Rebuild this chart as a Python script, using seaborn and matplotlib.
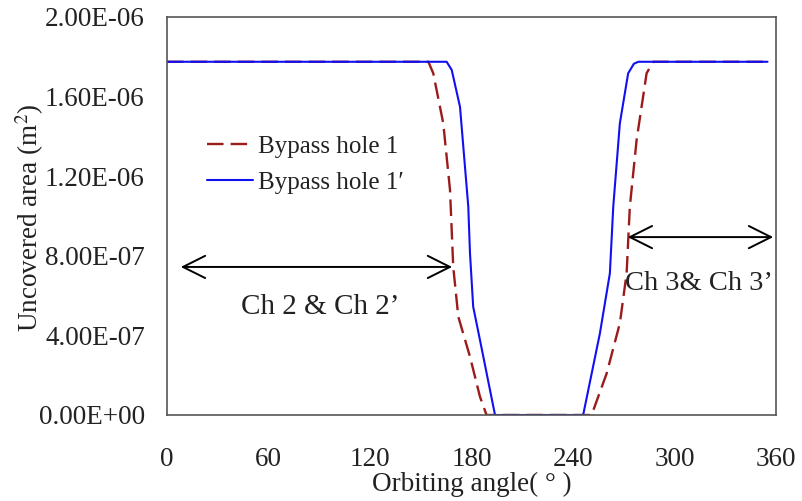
import matplotlib
matplotlib.use("Agg")
import matplotlib.pyplot as plt
import seaborn as sns
import pandas as pd

# Data
angle_hole1 = [0, 154.5, 157.4, 163.3, 167.3, 169.2, 172.2, 179.1, 185.0, 188.9,
               251.0, 259.9, 267.7, 271.7, 273.6, 277.6, 283.5, 287.4, 355]
area_hole1 = [1.775e-6, 1.775e-6, 1.717e-6, 1.466e-6, 1.131e-6, 0.745e-6, 0.494e-6,
              0.293e-6, 0.092e-6, 0.0, 0.0, 0.209e-6, 0.461e-6, 0.712e-6, 1.047e-6,
              1.382e-6, 1.717e-6, 1.775e-6, 1.775e-6]
angle_hole1p = [0, 165.3, 168.3, 173.2, 178.1, 179.1, 181.0, 185.0, 193.9,
                246.0, 255.9, 261.8, 263.8, 267.7, 272.6, 276.0, 278.6, 355]
area_hole1p = [1.775e-6, 1.775e-6, 1.734e-6, 1.549e-6, 1.047e-6, 0.814e-6, 0.544e-6,
               0.377e-6, 0.0, 0.0, 0.41e-6, 0.712e-6, 1.047e-6, 1.466e-6, 1.717e-6,
               1.765e-6, 1.775e-6, 1.775e-6]
series_names = ["Bypass hole 1", "Bypass hole 1\u2032"]
x_ticks = [0, 60, 120, 180, 240, 300, 360]
y_ticks = [0, 4e-7, 8e-7, 1.2e-6, 1.6e-6, 2e-6]
y_tick_labels = ["0.00E+00", "4.00E-07", "8.00E-07", "1.20E-06", "1.60E-06", "2.00E-06"]
arrow_ch2 = (6.5, 170.2, 7.44e-7)
arrow_ch3 = (270.7, 360, 8.94e-7)
label_ch2 = (90.4, 5.43e-7, "Ch 2 & Ch 2\u2019")
label_ch3 = (314.4, 6.63e-7, "Ch 3& Ch 3\u2019")

sns.set_theme(style="white")
plt.rcParams['font.family'] = ['Liberation Serif', 'DejaVu Serif']
plt.rcParams['mathtext.fontset'] = 'stix'

TXT = '#222222'
fig = plt.figure(figsize=(8.02, 5.01), dpi=100)
ax = fig.add_axes([167/802, 1 - 415/501, (776-167)/802, (415-17)/501])

df1 = pd.DataFrame({"angle": angle_hole1, "area": area_hole1})
df2 = pd.DataFrame({"angle": angle_hole1p, "area": area_hole1p})
sns.lineplot(data=df1, x="angle", y="area", ax=ax, color="#9B1B1B", lw=1.7,
             sort=False, label=series_names[0], linestyle=(0, (7, 3)))
sns.lineplot(data=df2, x="angle", y="area", ax=ax, color="#1010F0", lw=1.5,
             sort=False, label=series_names[1])

ax.set_xlim(0, 360)
ax.set_ylim(0, 2e-6)
ax.set_xticks(x_ticks)
ax.set_xticklabels([str(t) for t in x_ticks])
ax.set_yticks(y_ticks)
ax.set_yticklabels(y_tick_labels)
ax.tick_params(axis='both', direction='in', length=6, width=1, color='#555555',
               labelsize=19.5, labelcolor=TXT)
ax.tick_params(axis='x', pad=23)
ax.tick_params(axis='y', pad=16)
for s in ax.spines.values():
    s.set_color('#555555')
    s.set_linewidth(1.2)

ax.set_xlabel("Orbiting angle( \u00b0 )", fontsize=19.5, color=TXT)
ax.set_ylabel("Uncovered area (m$^2$)", fontsize=19.5, color=TXT)
ax.xaxis.set_label_coords(0.5, -0.143)
ax.yaxis.set_label_coords(-0.199, 0.495)

leg = ax.legend(loc='upper left', bbox_to_anchor=(0.066, 0.702), frameon=False,
                fontsize=18, handlelength=1.85, handletextpad=0.2, labelspacing=0.52,
                borderaxespad=0, borderpad=0)
for t in leg.get_texts():
    t.set_color(TXT)

arrowprops = dict(arrowstyle='<->', color='black', lw=1.4, mutation_scale=40)
ax.annotate("", xy=(arrow_ch2[0], arrow_ch2[2]), xytext=(arrow_ch2[1], arrow_ch2[2]),
            arrowprops=arrowprops)
ax.annotate("", xy=(arrow_ch3[0], arrow_ch3[2]), xytext=(arrow_ch3[1], arrow_ch3[2]),
            arrowprops=arrowprops, annotation_clip=False)
ax.text(label_ch2[0], label_ch2[1], label_ch2[2], fontsize=21, ha='center', va='center', color=TXT)
ax.text(label_ch3[0], label_ch3[1], label_ch3[2], fontsize=20.5, ha='center', va='center', color=TXT)

fig.savefig("out.png", dpi=100)
